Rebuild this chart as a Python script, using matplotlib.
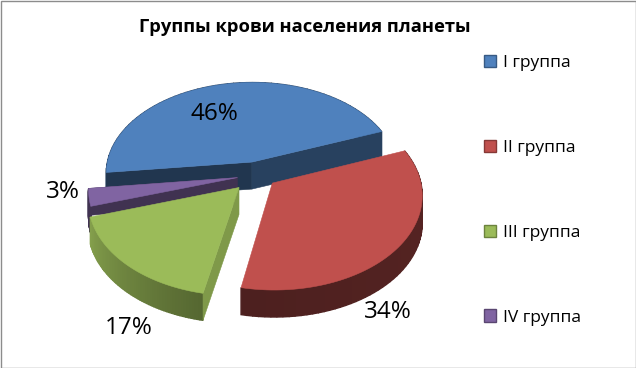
import numpy as np
import matplotlib
matplotlib.use("Agg")
import matplotlib.pyplot as plt
from matplotlib.patches import Polygon, Patch, Rectangle

categories = ["I группа", "II группа", "III группа", "IV группа"]
percent = [46, 34, 17, 3]
title = "Группы крови населения планеты"

colors = ["#4F81BD", "#C0504D", "#9BBB59", "#8064A2"]
explode = [0.147, 0.135, 0.18, 0.135]
wall_shade = [(0.50, 0.50), (0.46, 0.40), (0.55, 0.85), (0.50, 0.50)]
# shade of the cut faces at the start and end of each slice; None = faces away from the viewer
radial_shade = [(0.42, 0.50), (None, None), (0.82, None), (None, 0.5)]
label_pos = [(214, 113.5), (388, 312.5), (129, 328), (63, 192)]

plt.rcParams["font.family"] = ["Open Sans", "DejaVu Sans"]
CX, CY, R, K, C, DEPTH = 257, 175, 147, 92, 0.12, 27
START = 263.4


def project(gx, gz, drop=0.0):
    s = 1 / (1 - C * gz)
    return CX + R * gx * s, CY + K * gz * s + drop


def shade(col, f):
    return tuple(c * f for c in matplotlib.colors.to_rgb(col))


fig = plt.figure(figsize=(6.36, 3.68), dpi=100)
ax = fig.add_axes([0, 0, 1, 1])
ax.set_xlim(0, 636)
ax.set_ylim(368, 0)
ax.axis("off")
ax.add_patch(Rectangle((0.5, 0.5), 635, 367, fc="white", ec="#8c8c8c", lw=1, zorder=0))

# slice angle ranges, clockwise from 12 o'clock
edges = START + 3.6 * np.concatenate([[0], np.cumsum(percent)])
order = [0, 3, 2, 1]
z = 1
for i in order:
    a0, a1 = edges[i], edges[i + 1]
    mid = np.radians((a0 + a1) / 2)
    ox, oz = explode[i] * np.sin(mid), -explode[i] * np.cos(mid)
    th = np.radians(np.linspace(a0, a1, 61))
    gx, gz = ox + np.sin(th), oz - np.cos(th)
    # outer wall, painted as a gradient of narrow strips
    sh0, sh1 = wall_shade[i]
    for k in range(len(th) - 1):
        f = sh0 + (sh1 - sh0) * k / (len(th) - 2)
        col = shade(colors[i], f)
        quad = [project(gx[k], gz[k]), project(gx[k + 1], gz[k + 1]),
                project(gx[k + 1], gz[k + 1], DEPTH), project(gx[k], gz[k], DEPTH)]
        ax.add_patch(Polygon(quad, fc=col, ec=col, lw=1.0, zorder=z))
    z += 1
    # cut faces that look towards the viewer
    for (ex, ez), f in zip([(gx[0], gz[0]), (gx[-1], gz[-1])], radial_shade[i]):
        if f is None:
            continue
        col = shade(colors[i], f)
        quad = [project(ox, oz), project(ex, ez), project(ex, ez, DEPTH), project(ox, oz, DEPTH)]
        ax.add_patch(Polygon(quad, fc=col, ec=col, lw=0.4, zorder=z))
        z += 1
    # top face
    pts = [project(ox, oz)] + [project(x, y) for x, y in zip(gx, gz)]
    ax.add_patch(Polygon(pts, fc=colors[i], ec=colors[i], lw=0.4, zorder=z))
    z += 1

for p, (x, y) in zip(percent, label_pos):
    ax.text(x, y, f"{p}%", ha="center", va="center", fontsize=17.5, color="black", zorder=100)

ax.text(305, 27.5, title, ha="center", va="center", fontsize=13.2, fontweight="bold", color="black")

handles = [Patch(fc=c, ec=shade(c, 0.7), lw=1) for c in colors]
ax.legend(handles, categories, loc="upper left", bbox_to_anchor=(484 / 636, 1 - 55 / 368),
          frameon=False, fontsize=12.5, handlelength=0.7, handleheight=0.7, handletextpad=0.4,
          labelspacing=3.955, borderpad=0, borderaxespad=0)

fig.savefig("out.png", dpi=100)
